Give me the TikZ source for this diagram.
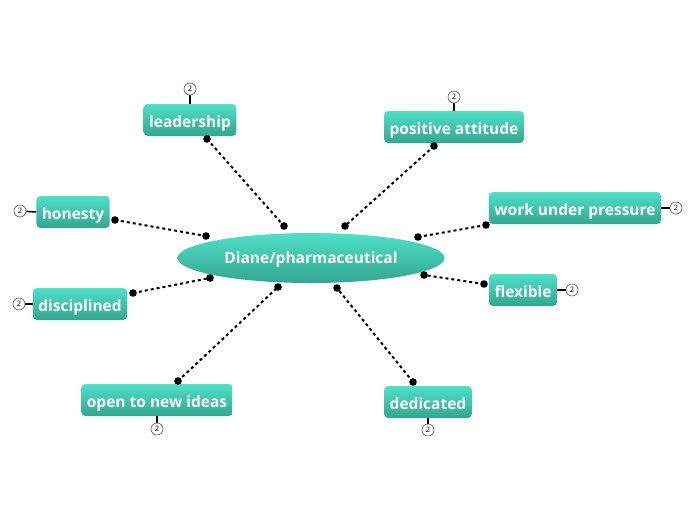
\documentclass[tikz,border=0pt]{standalone}
\usepackage{fontspec}
\setmainfont{Open Sans}
\definecolor{tealtop}{HTML}{4FE0C8}
\definecolor{tealbot}{HTML}{34A590}
\definecolor{markgray}{HTML}{555555}
\tikzset{
  topic/.style={rounded corners=4pt, top color=tealtop, bottom color=tealbot,
    draw=none, text=white, font=\fontsize{15.5}{18}\selectfont\bfseries,
    minimum height=32pt, inner xsep=5.5pt, inner ysep=0pt,
    text height=15pt, text depth=1pt},
  hub/.style={ellipse, top color=tealtop, bottom color=tealbot, draw=none,
    text=white, font=\fontsize{15.5}{18}\selectfont\bfseries,
    minimum width=267pt, minimum height=50pt, text height=12pt, text depth=2pt},
  fold/.style={circle, draw=markgray, line width=0.6pt, fill=white,
    minimum size=12pt, inner sep=0pt, font=\fontsize{7.5}{8}\selectfont},
  link/.style={line width=2pt, dash pattern=on 3pt off 3pt},
}
\usetikzlibrary{shapes.geometric}
\begin{document}
\begin{tikzpicture}[x=1pt,y=-1pt]
    \useasboundingbox (0,0) rectangle (696,520);
    \node [hub] (hub) at (311,258) {Diane/pharmaceutical};

    \node [topic] (lead) at (190,120) {leadership};
    \node [topic] (posit) at (454,127) {positive attitude};
    \node [topic] (hon) at (73,212) {honesty};
    \node [topic] (work) at (575,208) {work under pressure};
    \node [topic] (disc) at (80,304) {disciplined};
    \node [topic] (flex) at (523,290) {flexible};
    \node [topic] (open) at (157,400) {open to new ideas};
    \node [topic] (dedic) at (428,402) {dedicated};

    % fold markers
    \foreach \n/\x/\y/\a in {lead/190/89/north, posit/454/97/north,
        hon/20/211/west, work/676/208/east, disc/19/304/west,
        flex/572/290/east, open/157/429/south, dedic/428/430/south}
        {\draw [line width=1.5pt] (\x,\y) -- (\n.\a);
         \node [fold] (\n-fold) at (\x,\y) {2};}

    % connector ends
    \coordinate (lead-a) at (207,139);  \coordinate (lead-b) at (284,226);
    \coordinate (posit-a) at (434,146); \coordinate (posit-b) at (345,226);
    \coordinate (hon-a) at (115,220);   \coordinate (hon-b) at (206,236);
    \coordinate (work-a) at (486,225);  \coordinate (work-b) at (418,237);
    \coordinate (disc-a) at (133,293);  \coordinate (disc-b) at (210,278);
    \coordinate (flex-a) at (484,284);  \coordinate (flex-b) at (424,275);
    \coordinate (open-a) at (178,381);  \coordinate (open-b) at (278,287);
    \coordinate (dedic-a) at (413,382); \coordinate (dedic-b) at (337,288);

    \foreach \n in {lead,posit,hon,work,disc,flex,open,dedic}
        {\draw [link] (\n-a) -- (\n-b);
         \fill (\n-a) circle (3.8pt);
         \fill (\n-b) circle (3.8pt);}
\end{tikzpicture}
\end{document}
